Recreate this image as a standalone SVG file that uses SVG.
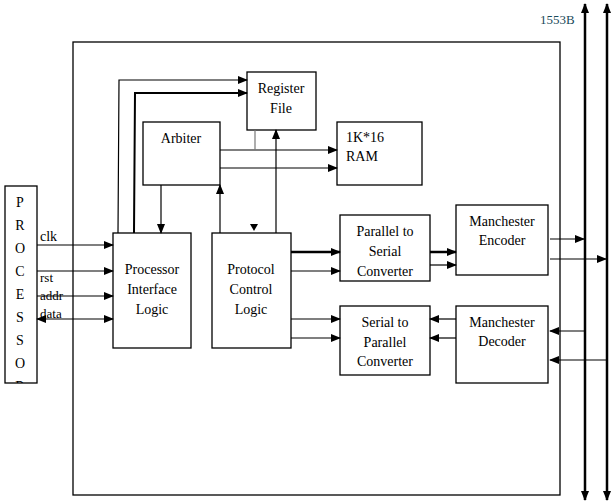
<svg xmlns="http://www.w3.org/2000/svg" width="615" height="501" viewBox="0 0 615 501">
<defs>
<marker id="a" markerWidth="10" markerHeight="8" refX="9" refY="4" orient="auto" markerUnits="userSpaceOnUse"><path d="M0,0L10,4L0,8z" fill="#000"/></marker>
<marker id="s" markerWidth="10" markerHeight="8" refX="1" refY="4" orient="auto" markerUnits="userSpaceOnUse"><path d="M10,0L0,4L10,8z" fill="#000"/></marker>
<clipPath id="pc"><rect x="5" y="186" width="32" height="197"/></clipPath>
</defs>
<style>
rect{fill:#fff;stroke:#000;stroke-width:1.3}
text{font-family:"Liberation Serif","DejaVu Serif",serif;font-size:14px;fill:#000}
.c text{text-anchor:middle}
line,polyline{stroke:#000;stroke-width:1.2;fill:none}
.t{stroke-width:2.5}
</style>
<rect x="0" y="0" width="615" height="501" style="stroke:none"/>
<rect x="73" y="42" width="487" height="453"/>
<text x="540" y="24" style="fill:#1a4a5a;font-size:13px">1553B</text>
<g id="processor" class="c"><rect x="5" y="186" width="32" height="197"/>
<g clip-path="url(#pc)"><text x="20" y="207">P</text><text x="20" y="230">R</text><text x="20" y="253">O</text><text x="20" y="276">C</text><text x="20" y="299">E</text><text x="20" y="322">S</text><text x="20" y="345">S</text><text x="20" y="368">O</text><text x="20" y="391">R</text></g></g>
<g id="pil" class="c"><rect x="113" y="233" width="78" height="115"/><text x="152" y="274">Processor</text><text x="152" y="294">Interface</text><text x="152" y="314">Logic</text></g>
<g id="arbiter" class="c"><rect x="143" y="122" width="77" height="63"/><text x="181" y="143">Arbiter</text></g>
<g id="regfile" class="c"><rect x="247" y="72" width="69" height="58"/><text x="281" y="93">Register</text><text x="281" y="113">File</text></g>
<g id="ram"><rect x="337" y="122" width="85" height="63"/><text x="346" y="142">1K*16</text><text x="346" y="161">RAM</text></g>
<g id="pcl" class="c"><rect x="212" y="233" width="79" height="115"/><text x="251" y="274">Protocol</text><text x="251" y="294">Control</text><text x="251" y="314">Logic</text></g>
<g id="p2s" class="c"><rect x="340" y="215" width="90" height="66"/><text x="385" y="236">Parallel to</text><text x="385" y="256">Serial</text><text x="385" y="276">Converter</text></g>
<g id="s2p" class="c"><rect x="340" y="306" width="90" height="69"/><text x="385" y="327">Serial to</text><text x="385" y="347">Parallel</text><text x="385" y="366">Converter</text></g>
<g id="enc" class="c"><rect x="456" y="205" width="92" height="70"/><text x="502" y="226">Manchester</text><text x="502" y="245">Encoder</text></g>
<g id="dec" class="c"><rect x="456" y="306" width="92" height="77"/><text x="502" y="327">Manchester</text><text x="502" y="346">Decoder</text></g>
<g id="connectors">
<line class="t" x1="585" y1="500" x2="585" y2="4" marker-end="url(#a)" marker-start="url(#s)"/>
<line class="t" x1="607" y1="500" x2="607" y2="4" marker-end="url(#a)" marker-start="url(#s)"/>
<line x1="37" y1="245" x2="113" y2="245" marker-end="url(#a)"/><text x="40" y="241">clk</text>
<line x1="37" y1="271" x2="113" y2="271" marker-end="url(#a)"/><text x="40" y="282" style="font-size:13px">rst</text>
<line x1="37" y1="296" x2="113" y2="296" marker-end="url(#a)"/><text x="40" y="300" style="font-size:13px">addr</text>
<line x1="37" y1="319" x2="113" y2="319" marker-end="url(#a)" marker-start="url(#s)"/><text x="40" y="318" style="font-size:13px">data</text>
<polyline points="118,233 119,80 247,80" marker-end="url(#a)"/>
<polyline points="134,233 135,93 247,93" style="stroke-width:2" marker-end="url(#a)"/>
<line x1="161" y1="185" x2="161" y2="233" marker-end="url(#a)"/>
<line x1="220" y1="233" x2="220" y2="185" marker-end="url(#a)"/>
<line x1="220" y1="150" x2="337" y2="150" marker-end="url(#a)"/>
<line x1="220" y1="168" x2="337" y2="168" marker-end="url(#a)"/>
<line x1="255" y1="130" x2="255" y2="150" style="stroke:#777"/>
<line x1="276" y1="233" x2="276" y2="130" marker-end="url(#a)"/>
<path d="M250,224L258,224L254,231z" fill="#000"/>
<line class="t" x1="291" y1="252" x2="340" y2="252" marker-end="url(#a)"/>
<line x1="291" y1="271" x2="340" y2="271" marker-end="url(#a)"/>
<line x1="291" y1="319" x2="340" y2="319" marker-end="url(#a)"/>
<line x1="291" y1="338" x2="340" y2="338" marker-end="url(#a)"/>
<line class="t" x1="430" y1="252" x2="456" y2="252" marker-end="url(#a)"/>
<line x1="430" y1="265" x2="456" y2="265" marker-end="url(#a)"/>
<line x1="456" y1="319" x2="430" y2="319" marker-end="url(#a)"/>
<line x1="456" y1="338" x2="430" y2="338" marker-end="url(#a)"/>
<line x1="550" y1="239" x2="584" y2="239" marker-end="url(#a)"/>
<line x1="550" y1="259" x2="606" y2="259" marker-end="url(#a)"/>
<line x1="585" y1="331" x2="550" y2="331" marker-end="url(#a)"/>
<line x1="607" y1="360" x2="550" y2="360" marker-end="url(#a)"/>
</g>
</svg>
